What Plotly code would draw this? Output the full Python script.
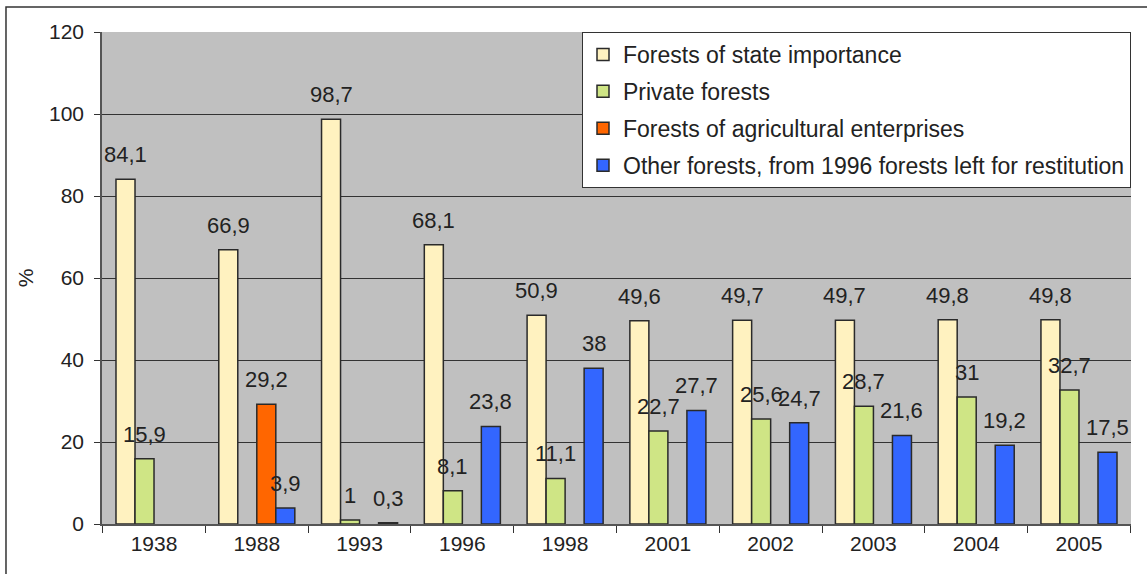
import plotly.graph_objects as go

years = ["1938", "1988", "1993", "1996", "1998", "2001", "2002", "2003", "2004", "2005"]
state = [84.1, 66.9, 98.7, 68.1, 50.9, 49.6, 49.7, 49.7, 49.8, 49.8]
private = [15.9, None, 1, 8.1, 11.1, 22.7, 25.6, 28.7, 31, 32.7]
agricultural = [None, 29.2, None, None, None, None, None, None, None, None]
other = [None, 3.9, 0.3, 23.8, 38, 27.7, 24.7, 21.6, 19.2, 17.5]

series_names = [
    "Forests of state importance",
    "Private forests",
    "Forests of agricultural enterprises",
    "Other forests, from 1996 forests left for restitution",
]
series_values = [state, private, agricultural, other]
series_colors = ["#FFF2C0", "#CFE585", "#FF6600", "#3366FF"]

FONT = "Liberation Sans, Arial, sans-serif"
TEXT = "#222222"
BARGAP = 0.26

fig = go.Figure()
for i, (name, vals, col) in enumerate(zip(series_names, series_values, series_colors)):
    fig.add_trace(go.Bar(
        x=years, y=vals, name=name, legendgroup=name,
        marker=dict(color=col, line=dict(color="#2a2a2a", width=1.5)),
    ))

# value labels above each bar
n = len(series_values)
w = (1 - BARGAP) / n
for i, vals in enumerate(series_values):
    off = -(1 - BARGAP) / 2 + w * (i + 0.5)
    for k, v in enumerate(vals):
        if v is None:
            continue
        fig.add_annotation(
            x=k + off, y=v, xref="x", yref="y",
            text=f"{v:g}".replace(".", ","),
            showarrow=False, yanchor="bottom", yshift=10,
            font=dict(family=FONT, size=22, color=TEXT),
        )

# outer frame of the chart
fig.add_shape(type="rect", xref="paper", yref="paper",
              x0=-0.0933, x1=1.05, y0=-0.3, y1=1.0508,
              line=dict(color="#333333", width=1.5), fillcolor="rgba(0,0,0,0)",
              layer="below")

fig.update_layout(
    width=1147, height=574,
    margin=dict(l=102, r=16, t=32, b=50),
    paper_bgcolor="white", plot_bgcolor="#C0C0C0",
    barmode="group", bargap=BARGAP, bargroupgap=0,
    font=dict(family=FONT, size=21, color=TEXT),
    showlegend=True,
    legend=dict(
        x=1, y=1, xanchor="right", yanchor="top",
        bgcolor="white", bordercolor="#333333", borderwidth=1,
        font=dict(family=FONT, size=23, color=TEXT),
        tracegroupgap=4, traceorder="grouped",
    ),
    xaxis=dict(
        type="category", tickson="boundaries", ticks="outside", ticklen=7,
        tickcolor="#333333", showline=True, linecolor="#555555", linewidth=1.5,
        showgrid=False, tickfont=dict(size=21, color=TEXT),
    ),
    yaxis=dict(
        range=[0, 120], dtick=20, ticks="outside", ticklen=6, tickcolor="#333333",
        showline=True, linecolor="#555555", linewidth=1.5,
        showgrid=True, gridcolor="#333333", gridwidth=1, zeroline=False,
        tickfont=dict(size=21, color=TEXT), ticklabelstandoff=6,
        title=dict(text="%", standoff=10, font=dict(size=21, color=TEXT)),
    ),
)

fig.write_html("out.html")
